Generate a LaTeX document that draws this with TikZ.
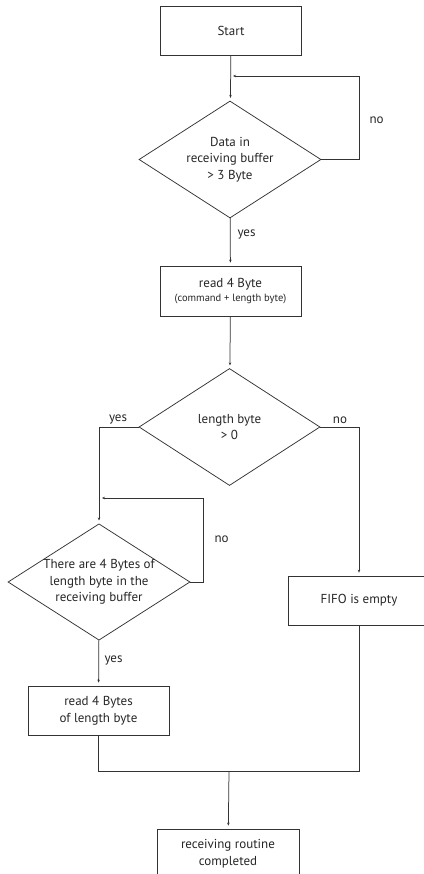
\documentclass[tikz,border=0pt]{standalone}
\usepackage{fontspec}
\setmainfont{PT Sans}
\usepackage{tikz}
\usetikzlibrary{arrows.meta,shapes.geometric}

\begin{document}
\begin{tikzpicture}[x=1pt,y=-1pt,
    every node/.style={font=\fontsize{13}{16.5}\selectfont, text=black!85},
    proc/.style={draw=black!80, line width=0.75pt, rectangle, minimum width=141pt, minimum height=49pt, align=center},
    decide/.style={draw=black!80, line width=0.75pt, diamond, aspect=1.56, inner sep=0pt, minimum width=182pt, minimum height=117pt, align=center},
    flow/.style={draw=black!80, line width=0.75pt},
    arr/.style={flow, -{Stealth[length=3pt,width=2.5pt]}, shorten >=3pt}]
  \useasboundingbox (0,0) rectangle (423,874);
  % boxes and decisions
  \node[proc] (start) at (231,30.5) {Start};
  \node[decide] (dec1) at (230,159.5) {Data in\\receiving buffer\\> 3 Byte};
  \node[proc, minimum height=50pt] (rd) at (230.5,291) {read 4 Byte\\[-3pt]{\fontsize{10.5}{12}\selectfont (command + length byte)}};
  \node[decide, minimum width=181pt] (dec2) at (229.5,427) {length byte\\> 0};
  \node[decide, minimum height=116pt] (dec3) at (99,582) {There are 4 Bytes of\\length byte in the\\receiving buffer};
  \node[proc] (rdlen) at (98.5,710.5) {read 4 Bytes\\of length byte};
  \node[proc] (fifo) at (359,600.5) {FIFO is empty};
  \node[proc, minimum width=142pt] (done) at (228,853.5) {receiving routine\\completed};
  % corner points
  \coordinate (j1) at (230,76);
  \coordinate (l1) at (359,76);
  \coordinate (j3) at (99,498);
  \coordinate (l3) at (203,498);
  \coordinate (m) at (229,771);
  % connectors
  \draw[arr] (start) -- (dec1);
  \draw[arr] (dec1.east) -| (l1) -- (j1);
  \draw[arr] (dec1) -- (rd);
  \draw[arr] (rd) -- (dec2);
  \draw[arr] (dec2.west) -| (dec3.north);
  \draw[arr] (dec2.east) -| (fifo.north);
  \draw[arr] (dec3.east) -| (l3) -- (j3);
  \draw[arr] (dec3) -- (rdlen);
  \draw[flow] (rdlen.south) -- (rdlen.south |- m) -- (fifo.south |- m) -- (fifo.south);
  \draw[arr] (m) -- (done);
  % branch labels
  \node[anchor=west] (no1) at (366,120) {no};
  \node[anchor=west] (yes1) at (234,235) {yes};
  \node (yes2) at (118,420) {yes};
  \node (no2) at (340,420) {no};
  \node[anchor=west] (no3) at (211,539) {no};
  \node[anchor=west] (yes3) at (101,660) {yes};
\end{tikzpicture}
\end{document}
